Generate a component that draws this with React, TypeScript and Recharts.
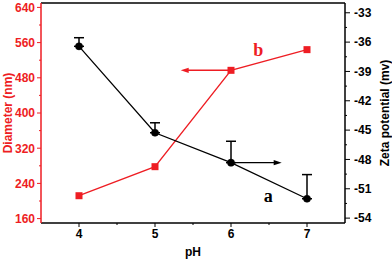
import {
  ErrorBar,
  Line,
  LineChart,
  ReferenceDot,
  ReferenceLine,
  XAxis,
  YAxis,
} from 'recharts'

const RED = '#ee1d23'
const SANS = '"Liberation Sans", Arial, sans-serif'
const SERIF = '"Liberation Serif", "Times New Roman", serif'

const phValues = [4, 5, 6, 7]
const diameter = [212, 278, 497, 544]
const zeta = [-36.43, -45.27, -48.33, -52.02]
const zetaErrUp = [0.88, 1.02, 2.19, 2.47]

const xMajor = [4, 5, 6, 7]
const xMinor = [4.5, 5.5, 6.5]
const leftMajor = [160, 240, 320, 400, 480, 560, 640]
const leftMinor = [200, 280, 360, 440, 520, 600]
const rightMajor = [-54, -51, -48, -45, -42, -39, -36, -33]
const rightMinor = [-52.5, -49.5, -46.5, -43.5, -40.5, -37.5, -34.5]

const data = phValues.map((ph, i) => ({
  ph,
  diameter: diameter[i],
  zeta: zeta[i],
  zetaErr: [0, zetaErrUp[i]],
}))

const tickFont = { fontFamily: SANS, fontSize: 12, fontWeight: 700 }

function LeftTick({ x, y, payload }: any) {
  const major = leftMajor.includes(payload.value)
  return (
    <g>
      <line x1={x} x2={x - (major ? 4 : 2)} y1={y} y2={y} stroke={RED} strokeWidth={1} />
      {major && (
        <text x={x - 6} y={y} dy="0.36em" textAnchor="end" fill={RED} {...tickFont}>
          {payload.value}
        </text>
      )}
    </g>
  )
}

function RightTick({ x, y, payload }: any) {
  const major = rightMajor.includes(payload.value)
  return (
    <g>
      <line x1={x} x2={x + (major ? 5 : 2)} y1={y} y2={y} stroke="#000" strokeWidth={1} />
      {major && (
        <text x={x + 9} y={y} dy="0.36em" textAnchor="start" fill="#000" {...tickFont}>
          {payload.value}
        </text>
      )}
    </g>
  )
}

function BottomTick({ x, y, payload }: any) {
  const major = xMajor.includes(payload.value)
  return (
    <g>
      <line x1={x} x2={x} y1={y} y2={y + (major ? 4 : 2)} stroke="#000" strokeWidth={1} />
      {major && (
        <text x={x} y={y + 6} dy="0.72em" textAnchor="middle" fill="#000" {...tickFont}>
          {payload.value}
        </text>
      )}
    </g>
  )
}

function SquareDot({ cx, cy }: any) {
  return <rect x={cx - 3.5} y={cy - 3.5} width={7} height={7} fill={RED} />
}

function Arrow({ x1, y1, x2, y2, color }: any) {
  const dir = x2 > x1 ? 1 : -1
  return (
    <g>
      <line x1={x1} y1={y1} x2={x2 - dir * 6} y2={y2} stroke={color} strokeWidth={1.4} />
      <polygon
        points={`${x2},${y2} ${x2 - dir * 8},${y2 - 2.6} ${x2 - dir * 8},${y2 + 2.6}`}
        fill={color}
      />
    </g>
  )
}

function SideLabel({ viewBox, text, cx, color }: any) {
  const cy = viewBox.y + viewBox.height / 2
  return (
    <text
      x={cx}
      y={cy}
      dy="0.35em"
      transform={`rotate(-90, ${cx}, ${cy})`}
      textAnchor="middle"
      fill={color}
      fontFamily={SANS}
      fontSize={12}
      fontWeight={700}
    >
      {text}
    </text>
  )
}

export default function App() {
  return (
    <div style={{ position: 'absolute', left: 0, top: 0 }}>
      <LineChart width={392} height={259} data={data} margin={{ top: 3, right: 0, bottom: 0, left: 0 }}>
        <XAxis
          dataKey="ph"
          type="number"
          domain={[3.5, 7.5]}
          ticks={[...xMajor, ...xMinor]}
          interval={0}
          allowDataOverflow
          height={36}
          stroke="#000"
          strokeWidth={1.5}
          tickLine={false}
          tickSize={0}
          tickMargin={0}
          tick={<BottomTick />}
          label={{ value: 'pH', position: 'insideBottom', offset: 3, fill: '#000', fontFamily: SANS, fontSize: 12, fontWeight: 700 }}
        />
        <YAxis
          yAxisId="left"
          type="number"
          domain={[150, 650]}
          ticks={[...leftMajor, ...leftMinor]}
          interval={0}
          allowDataOverflow
          width={41}
          stroke={RED}
          strokeWidth={1.5}
          tickLine={false}
          tickSize={0}
          tickMargin={0}
          tick={<LeftTick />}
          label={{ content: (p: any) => <SideLabel {...p} text="Diameter (nm)" cx={7.5} color={RED} /> }}
        />
        <YAxis
          yAxisId="right"
          orientation="right"
          type="number"
          domain={[-54.5, -32]}
          ticks={[...rightMajor, ...rightMinor]}
          interval={0}
          allowDataOverflow
          width={47}
          stroke="#000"
          strokeWidth={1.5}
          tickLine={false}
          tickSize={0}
          tickMargin={0}
          tick={<RightTick />}
          label={{ content: (p: any) => <SideLabel {...p} text="Zeta potential (mv)" cx={385} color="#000" /> }}
        />
        <ReferenceLine yAxisId="left" y={650} stroke="#000" strokeWidth={1.5} />
        <ReferenceLine
          yAxisId="left"
          segment={[{ x: 6, y: 497 }, { x: 5.338, y: 497 }]}
          shape={(p: any) => <Arrow {...p} color={RED} />}
        />
        <ReferenceLine
          yAxisId="right"
          segment={[{ x: 6, y: -48.33 }, { x: 6.667, y: -48.33 }]}
          shape={(p: any) => <Arrow {...p} color="#000" />}
        />
        <Line
          yAxisId="left"
          dataKey="diameter"
          stroke={RED}
          strokeWidth={1.3}
          dot={<SquareDot />}
          isAnimationActive={false}
        />
        <Line
          yAxisId="right"
          dataKey="zeta"
          stroke="#000"
          strokeWidth={1.3}
          dot={{ r: 3.6, fill: '#000', stroke: '#000', strokeWidth: 0.5 }}
          isAnimationActive={false}
        >
          <ErrorBar dataKey="zetaErr" width={5} stroke="#000" strokeWidth={1.5} />
        </Line>
        <ReferenceDot
          yAxisId="left"
          x={6.359}
          y={543}
          r={0}
          label={{ value: 'b', position: 'center', fill: RED, fontFamily: SERIF, fontSize: 18, fontWeight: 700 }}
        />
        <ReferenceDot
          yAxisId="right"
          x={6.491}
          y={-51.71}
          r={0}
          label={{ value: 'a', position: 'center', fill: '#000', fontFamily: SERIF, fontSize: 18, fontWeight: 700 }}
        />
      </LineChart>
    </div>
  )
}
